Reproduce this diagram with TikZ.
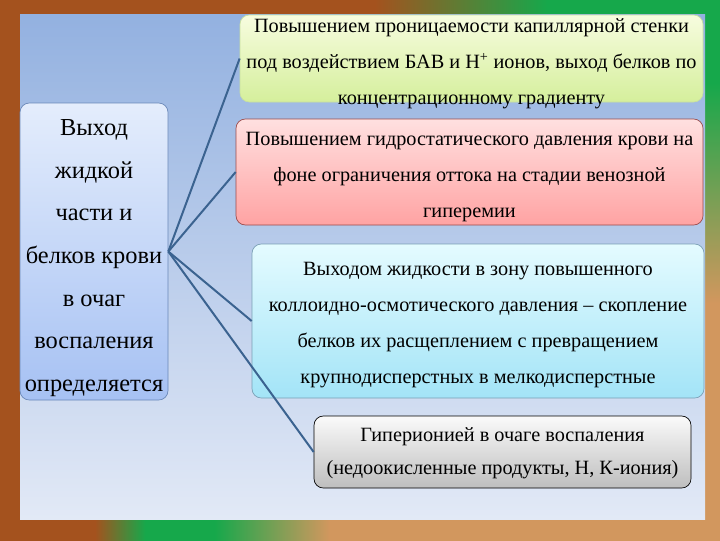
\documentclass[tikz,border=0pt]{standalone}
\usepackage{fontspec}
\setmainfont{Liberation Serif}

\definecolor{frbrown}{HTML}{A4521E}
\definecolor{frgreen}{HTML}{16A84B}
\definecolor{frorange}{HTML}{D2975E}
\definecolor{slidetop}{HTML}{93B1E0}
\definecolor{slidebot}{HTML}{E2E9F6}
\definecolor{linkblue}{HTML}{3B6390}
\definecolor{lboxline}{HTML}{6A88B8}
\definecolor{lboxtop}{HTML}{E4EDFC}
\definecolor{lboxbot}{HTML}{A6C1F3}
\definecolor{permline}{HTML}{C8E0A0}
\definecolor{permtop}{HTML}{F7FCDF}
\definecolor{permbot}{HTML}{D5EF9C}
\definecolor{hydroline}{HTML}{9A4A4A}
\definecolor{hydrotop}{HTML}{FFE0E0}
\definecolor{hydrobot}{HTML}{FFA3A3}
\definecolor{osmoline}{HTML}{7A9FB5}
\definecolor{osmotop}{HTML}{E4FBFF}
\definecolor{osmobot}{HTML}{A3E4F7}
\definecolor{iontop}{HTML}{FAFAFA}
\definecolor{ionbot}{HTML}{BEBEBE}

% frame strips: the path fills 25bp..75bp of the shading
\pgfdeclarehorizontalshading{topstrip}{100bp}{color(0bp)=(frbrown); color(51bp)=(frbrown);
  color(63bp)=(frgreen); color(100bp)=(frgreen)}
\pgfdeclarehorizontalshading{bottomstrip}{100bp}{color(0bp)=(frbrown); color(31.6bp)=(frbrown);
  color(35.1bp)=(frgreen); color(39.9bp)=(frgreen); color(47.9bp)=(frorange); color(100bp)=(frorange)}
\pgfdeclareverticalshading{rightstrip}{100bp}{color(0bp)=(frorange); color(47bp)=(frorange);
  color(67bp)=(frgreen); color(100bp)=(frgreen)}

\begin{document}
\begin{tikzpicture}[x=0.75pt,y=-0.75pt,
    box/.style={rounded corners=7pt,inner sep=0pt,line width=0.5pt},
    txt/.style={align=center,font=\fontsize{15.2}{27}\selectfont},
    link/.style={draw=linkblue,line width=1.5pt}]
  \useasboundingbox (0,0) rectangle (720,540);
  % frame
  \fill[frbrown] (-5,-5) rectangle (725,545);
  \shade[shading=topstrip] (0,-5) rectangle (720,15);
  \shade[shading=rightstrip] (705,-5) rectangle (725,545);
  \shade[shading=bottomstrip] (0,519) rectangle (720,545);
  \fill[frbrown] (-5,-5) rectangle (20,545);
  \shade[top color=slidetop,bottom color=slidebot] (20,14) rectangle (705,519);

  % boxes
  \node[box,draw=lboxline,top color=lboxtop,bottom color=lboxbot,
        minimum width=111pt,minimum height=222.75pt] (lbox) at (94,251.5) {};
  \node[box,draw=permline,top color=permtop,bottom color=permbot,
        minimum width=347.25pt,minimum height=65.25pt] (perm) at (471.5,58.5) {};
  \node[box,draw=hydroline,top color=hydrotop,bottom color=hydrobot,
        minimum width=350.25pt,minimum height=79.5pt] (hydro) at (469.5,172) {};
  \node[box,draw=osmoline,top color=osmotop,bottom color=osmobot,
        minimum width=339pt,minimum height=115.5pt] (osmo) at (478,321) {};
  \node[box,draw=black,top color=iontop,bottom color=ionbot,
        minimum width=282.75pt,minimum height=54pt] (ion) at (502.5,452) {};

  % texts
  \node[align=center,font=\fontsize{18.3}{32}\selectfont] (lboxtxt) at (94,258)
    {Выход\\жидкой\\части и\\белков крови\\в очаг\\воспаления\\определяется};
  \node[txt] (permtxt) at (471.5,63.5) {Повышением проницаемости капиллярной стенки\\
    под воздействием БАВ и Н\textsuperscript{+} ионов, выход белков по\\
    концентрационному градиенту};
  \node[txt] (hydrotxt) at (469.5,177) {Повышением гидростатического давления крови на\\
    фоне ограничения оттока на стадии венозной\\гиперемии};
  \node[txt] (osmotxt) at (478,325.5) {Выходом жидкости в зону повышенного\\
    коллоидно-осмотического давления – скопление\\
    белков их расщеплением с превращением\\
    крупнодисперстных в мелкодисперстные};
  \node[align=center,font=\fontsize{15.2}{24.75}\selectfont] (iontxt) at (502.5,453.5)
    {Гиперионией в очаге воспаления\\(недоокисленные продукты, Н, К-иония)};

  \foreach \b in {perm,hydro,osmo,ion}
    \draw[link] (lbox.east) -- (\b.west);
\end{tikzpicture}
\end{document}
